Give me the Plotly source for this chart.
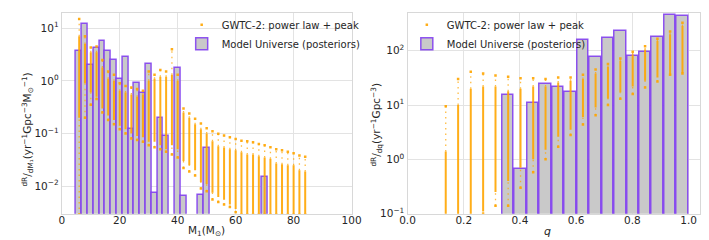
import plotly.graph_objects as go

# ---------------- data: left panel (primary mass) ----------------
m1_cols = [6, 8, 10, 12, 14, 16, 18, 20, 22, 24, 26, 28, 30, 32, 34, 36, 38, 40, 42, 44,
           46, 48, 50, 52, 54, 56, 58, 60, 62, 64, 66, 68, 70, 72, 74, 76, 78, 80, 82, 84]
m1_max = [15, 7, 4.3, 4.5, 2.5, 1.5, 1.3, 0.9, 0.8, 0.75, 0.7, 0.65, 1.5, 1.3, 1.6, 1.5, 4.0, 1.3, 0.30, 0.24,
          0.19, 0.155, 0.126, 0.11, 0.099, 0.092, 0.085, 0.079, 0.073, 0.071, 0.068, 0.063, 0.06, 0.055, 0.05, 0.048, 0.045, 0.042, 0.038, 0.036]
m1_hi = [7, 5, 3.5, 3.5, 1.8, 1.1, 1.0, 0.65, 0.6, 0.55, 0.5, 0.55, 1.0, 1.1, 1.2, 1.2, 1.3, 1.0, 0.25, 0.2,
         0.15, 0.12, 0.1, 0.071, 0.057, 0.054, 0.05, 0.048, 0.044, 0.04, 0.04, 0.037, 0.035, 0.033, 0.027, 0.026, 0.025, 0.025, 0.02, 0.019]
m1_lo = [0.2, 0.9, 0.6, 0.5, 0.3, 0.22, 0.18, 0.14, 0.12, 0.1, 0.09, 0.085, 0.07, 0.07, 0.06, 0.05, 0.06, 0.05, 0.03, 0.025,
         0.02, 0.012, 0.011, 0.0075, 0.0062, 0.0055, 0.0045, 0.0037, 0.0029, 0.0029, 0.0029, 0.0029, 0.0029, 0.0029, 0.0029, 0.0029, 0.0029, 0.0029, 0.0029, 0.0029]
m1_min = [0.0029, 0.2, 0.35, 0.45, 0.25, 0.18, 0.15, 0.12, 0.1, 0.08, 0.075, 0.07, 0.06, 0.055, 0.05, 0.045, 0.04, 0.035, 0.022, 0.019,
          0.016, 0.009, 0.008, 0.0056, 0.005, 0.0045, 0.004, 0.0032, 0.0029, 0.0029, 0.0029, 0.0029, 0.0029, 0.0029, 0.0029, 0.0029, 0.0029, 0.0029, 0.0029, 0.0029]

m1_bar_x = [6, 8, 10, 12, 14, 16, 18, 20, 22, 24, 26, 28, 30, 32, 34, 36, 40, 42, 48, 50, 70]
m1_bar_y = [3.66, 12.2, 1.98, 4.26, 5.75, 3.66, 2.49, 1.09, 2.9, 0.12, 0.92, 0.585, 2.07, 0.0076, 0.2, 0.092,
            1.74, 0.0064, 0.0068, 0.054, 0.0149]

# ---------------- data: right panel (mass ratio) ----------------
q_cols = [0.136, 0.180, 0.225, 0.269, 0.313, 0.358, 0.402, 0.447, 0.491, 0.536,
          0.580, 0.624, 0.669, 0.713, 0.757, 0.801, 0.845, 0.889, 0.934, 0.978]
q_max = [9.5, 30, 41, 38, 35, 33, 31, 31, 30, 32, 32, 36, 45, 57, 72, 95, 120, 165, 225, 325]
q_hi = [1.4, 10, 20, 22, 22, 18, 20, 22, 22, 26, 28, 30, 38, 50, 65, 85, 105, 150, 200, 285]
q_lo = [0.09, 0.09, 0.09, 0.11, 0.25, 0.4, 0.7, 1.0, 1.5, 2.6, 3.5, 6, 9, 13, 17, 22, 28, 32, 36, 39]
q_min = [0.09, 0.09, 0.09, 0.1, 0.14, 0.14, 0.3, 0.58, 1.0, 1.7, 2.8, 4.4, 6.5, 10, 13, 16, 21, 27, 36, 38]

q_bar_x = [0.358, 0.402, 0.447, 0.491, 0.536, 0.580, 0.624, 0.669, 0.713, 0.757, 0.801, 0.845, 0.889, 0.934, 0.978]
q_bar_y = [15.1, 0.67, 11, 24.8, 21.9, 17.8, 160, 78, 171, 229, 79, 95, 178, 451, 432]

m1_yticks = [0.01, 0.1, 1, 10]
q_yticks = [0.1, 1, 10, 100]
m1_ytext = ["10<sup>\u22122</sup>", "10<sup>\u22121</sup>", "10<sup>0</sup>", "10<sup>1</sup>"]
q_ytext = ["10<sup>\u22121</sup>", "10<sup>0</sup>", "10<sup>1</sup>", "10<sup>2</sup>"]
m1_xticks = [0, 20, 40, 60, 80, 100]
q_xticks = [0.0, 0.2, 0.4, 0.6, 0.8, 1.0]

LABEL_SCAT = "GWTC-2: power law + peak"
LABEL_BAR = "Model Universe (posteriors)"

ORANGE = "rgba(255,165,0,0.9)"
BAR_FILL = "#c9c9c9"
BAR_EDGE = "rgba(125,55,240,0.85)"
W, H = 709, 240


def segs(xs, a, b):
    X, Y = [], []
    for x, y0, y1 in zip(xs, a, b):
        X += [x, x, None]
        Y += [y0, y1, None]
    return X, Y


fig = go.Figure()


def add_panel(xs, mx, hi, lo, mn, bx, by, bw, xa, ya, leg):
    fig.add_trace(go.Bar(x=bx, y=by, width=bw, name=LABEL_BAR,
                         marker=dict(color=BAR_FILL, line=dict(color=BAR_EDGE, width=1.5)),
                         xaxis=xa, yaxis=ya, legend=leg, legendrank=2, hoverinfo="skip"))
    cx, cy = segs(xs, lo, hi)
    fig.add_trace(go.Scatter(x=cx, y=cy, mode="lines", line=dict(color=ORANGE, width=2),
                             showlegend=False, xaxis=xa, yaxis=ya, hoverinfo="skip"))
    tx1, ty1 = segs(xs, hi, mx)
    tx2, ty2 = segs(xs, mn, lo)
    fig.add_trace(go.Scatter(x=tx1 + tx2, y=ty1 + ty2, mode="lines",
                             line=dict(color="rgba(255,165,0,0.75)", width=1.3, dash="1.5px,4px"),
                             showlegend=False, xaxis=xa, yaxis=ya, hoverinfo="skip"))
    fig.add_trace(go.Scatter(x=list(xs) + list(xs), y=list(mx) + list(mn), mode="markers",
                             marker=dict(color=ORANGE, size=2.5, symbol="square"),
                             name=LABEL_SCAT, xaxis=xa, yaxis=ya, legend=leg, legendrank=1,
                             hoverinfo="skip"))


add_panel(m1_cols, m1_max, m1_hi, m1_lo, m1_min, m1_bar_x, m1_bar_y, 2.0, "x", "y", "legend")
add_panel(q_cols, q_max, q_hi, q_lo, q_min, q_bar_x, q_bar_y, 0.0405, "x2", "y2", "legend2")

ydom = [29 / H, 235 / H]
axcommon = dict(showgrid=True, gridcolor="#e3e3e3", gridwidth=1.2, showline=True, mirror=True,
                linecolor="#d8d8d8", linewidth=1.2, ticks="", zeroline=False,
                tickfont=dict(family="DejaVu Sans", size=10.5, color="#262626"))

fig.update_layout(
    width=W, height=H, margin=dict(l=0, r=0, t=0, b=0),
    paper_bgcolor="white", plot_bgcolor="white", barmode="overlay", bargap=0,
    font=dict(family="DejaVu Sans", size=10, color="#262626"),
    xaxis=dict(domain=[47 / W, 344.3 / W], range=[0, 100], tickvals=m1_xticks, anchor="y",
               ticklabelstandoff=-3, **axcommon),
    yaxis=dict(domain=ydom, type="log", range=[-2.524, 1.291], tickvals=m1_yticks, ticktext=m1_ytext,
               anchor="x", **axcommon),
    xaxis2=dict(domain=[401.7 / W, 702 / W], range=[0, 1.041], tickvals=q_xticks, tickformat=".1f",
                anchor="y2", ticklabelstandoff=-3, **axcommon),
    yaxis2=dict(domain=ydom, type="log", range=[-1, 2.695], tickvals=q_yticks, ticktext=q_ytext,
                anchor="x2", **axcommon),
    legend=dict(x=170 / W, y=0.99, xanchor="left", yanchor="top", bgcolor="rgba(0,0,0,0)",
                font=dict(size=10, color="#262626"), itemwidth=30, tracegroupgap=0),
    legend2=dict(x=401 / W, y=0.99, xanchor="left", yanchor="top", bgcolor="rgba(0,0,0,0)",
                 font=dict(size=10, color="#262626"), itemwidth=30, tracegroupgap=0),
    annotations=[
        dict(text="M<sub>1</sub>(M<sub>\u2299</sub>)", x=(47 + 344.3) / 2 / W, y=(240 - 229) / H,
             xref="paper", yref="paper", xanchor="center", yanchor="middle", showarrow=False,
             font=dict(size=10.5)),
        dict(text="<i>q</i>", x=(401.7 + 690) / 2 / W, y=(240 - 229) / H,
             xref="paper", yref="paper", xanchor="center", yanchor="middle", showarrow=False,
             font=dict(size=11)),
        dict(text="<sup>dR</sup>/<sub>dM\u2081</sub>(yr<sup>\u22121</sup>Gpc<sup>\u22123</sup>M<sub>\u2299</sub><sup>\u22121</sup>)",
             x=12 / W, y=(240 - 125) / H, xref="paper", yref="paper", xanchor="center",
             yanchor="middle", showarrow=False, textangle=-90, font=dict(size=10.5)),
        dict(text="<sup>dR</sup>/<sub>dq</sub>(yr<sup>\u22121</sup>Gpc<sup>\u22123</sup>)",
             x=370 / W, y=(240 - 120) / H, xref="paper", yref="paper", xanchor="center",
             yanchor="middle", showarrow=False, textangle=-90, font=dict(size=10.5)),
    ],
)

fig.write_html("out.html")
